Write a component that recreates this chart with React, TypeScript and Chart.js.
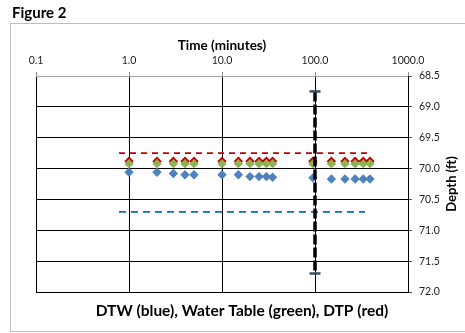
import React, { useEffect, useRef } from "react";
import { Chart, registerables } from "chart.js";

Chart.register(...registerables);

const times = [1, 2, 3, 4, 5, 10, 15, 20, 25, 30, 35, 95, 150, 210, 270, 330, 390];
const dtw = [70.06, 70.06, 70.08, 70.1, 70.1, 70.1, 70.1, 70.13, 70.13, 70.13, 70.14, 70.15, 70.17, 70.17, 70.17, 70.17, 70.17];
const waterTable = [69.92, 69.92, 69.92, 69.92, 69.92, 69.92, 69.92, 69.92, 69.92, 69.92, 69.92, 69.92, 69.92, 69.92, 69.92, 69.92, 69.92];
const dtp = [69.88, 69.88, 69.88, 69.88, 69.88, 69.88, 69.88, 69.88, 69.88, 69.88, 69.88, 69.88, 69.88, 69.88, 69.88, 69.88, 69.88];

const redDashX = [0.78, 380];
const redDashY = [69.75, 69.75];
const blueDashX = [0.78, 345];
const blueDashY = [70.7, 70.7];
const verticalX = [100, 100];
const verticalY = [68.75, 71.7];

const xTicks = [0.1, 1, 10, 100, 1000];
const yMin = 68.5;
const yMax = 72.0;
const yStep = 0.5;

const FONT = "Lato, 'Open Sans', sans-serif";

const pts = (xs: number[], ys: number[]) => xs.map((x, i) => ({ x, y: ys[i] }));

const textPlugin = {
  id: "textPlugin",
  beforeDraw(chart: any) {
    const ctx = chart.ctx;
    ctx.save();
    ctx.fillStyle = "#fff";
    ctx.fillRect(0, 0, chart.width, chart.height);
    ctx.strokeStyle = "#BFBFBF";
    ctx.lineWidth = 1;
    ctx.strokeRect(10.5, 23.5, 470, 308);
    ctx.restore();
  },
  afterDraw(chart: any) {
    const ctx = chart.ctx;
    const ca = chart.chartArea;
    ctx.save();
    ctx.fillStyle = "#000";
    ctx.font = `bold 15px ${FONT}`;
    ctx.textAlign = "left";
    ctx.textBaseline = "alphabetic";
    ctx.fillText("Figure 2", 12, 18);

    ctx.font = `bold 13.5px ${FONT}`;
    ctx.textAlign = "center";
    ctx.textBaseline = "middle";
    ctx.fillText("Time (minutes)", (ca.left + ca.right) / 2, 46);

    ctx.save();
    ctx.font = `bold 13px ${FONT}`;
    ctx.translate(452, (ca.top + ca.bottom) / 2);
    ctx.rotate(-Math.PI / 2);
    ctx.fillText("Depth (ft)", 0, 0);
    ctx.restore();

    ctx.font = `bold 15.5px ${FONT}`;
    ctx.fillText("DTW (blue), Water Table (green), DTP (red)", 242, 311);
    ctx.restore();
  },
};

export default function App() {
  const ref = useRef<HTMLCanvasElement>(null);
  useEffect(() => {
    if (!ref.current) return;
    const marker = (color: string, order: number, ys: number[]) => ({
      data: pts(times, ys),
      pointStyle: "rectRot",
      pointRadius: 4.7,
      pointBackgroundColor: color,
      pointBorderColor: color,
      pointBorderWidth: 0,
      showLine: false,
      order,
    });
    const chart = new Chart(ref.current, {
      type: "scatter",
      data: {
        datasets: [
          {
            data: pts(verticalX, verticalY),
            showLine: true,
            borderColor: "#000",
            borderWidth: 3.5,
            borderDash: [10, 3],
            pointStyle: "line",
            pointRadius: 5.5,
            pointBorderColor: "#3E4A5E",
            pointBorderWidth: 2.5,
            order: 0,
          } as any,
          marker("#4F81BD", 1, dtw) as any,
          marker("#8DB24F", 2, waterTable) as any,
          marker("#C00000", 3, dtp) as any,
          {
            data: pts(redDashX, redDashY),
            showLine: true,
            borderColor: "#C00000",
            borderWidth: 1.75,
            borderDash: [6, 5],
            pointRadius: 0,
            order: 4,
          } as any,
          {
            data: pts(blueDashX, blueDashY),
            showLine: true,
            borderColor: "#0070C0",
            borderWidth: 1.75,
            borderDash: [7, 5],
            pointRadius: 0,
            order: 5,
          } as any,
        ],
      },
      options: {
        animation: false,
        responsive: false,
        layout: { padding: { left: 36, top: 0, right: 0, bottom: 41 } },
        plugins: { legend: { display: false }, tooltip: { enabled: false }, title: { display: false } },
        scales: {
          x: {
            type: "logarithmic",
            position: "top",
            min: 0.1,
            max: 1000,
            afterBuildTicks: (s: any) => {
              s.ticks = xTicks.map((v) => ({ value: v }));
            },
            afterFit: (s: any) => {
              s.height = 76;
            },
            ticks: {
              autoSkip: false,
              maxRotation: 0,
              padding: 5,
              color: "#222",
              font: { family: FONT, size: 10.5 },
              callback: (v: any) => Number(v).toFixed(1),
            },
            grid: { color: "#000", lineWidth: 1, tickLength: 4, tickColor: "#8C8C8C" },
            border: { color: "#A6A6A6", width: 1 },
          },
          y: {
            type: "linear",
            position: "right",
            reverse: true,
            min: yMin,
            max: yMax,
            afterFit: (s: any) => {
              s.width = 57;
            },
            ticks: {
              stepSize: yStep,
              padding: 7,
              color: "#222",
              font: { family: FONT, size: 10.5 },
              callback: (v: any) => Number(v).toFixed(1),
            },
            grid: {
              color: (c: any) => (c.tick && Math.abs(c.tick.value - yMin) < 1e-6 ? "#A6A6A6" : "#000"),
              lineWidth: 1,
              tickLength: 4,
              tickColor: "#595959",
            },
            border: { color: "#000", width: 1 },
          },
        },
      },
      plugins: [textPlugin],
    });
    return () => chart.destroy();
  }, []);
  return (
    <canvas
      ref={ref}
      width={465}
      height={333}
      style={{ position: "absolute", left: 0, top: 0, display: "block", width: 465, height: 333 }}
    />
  );
}
